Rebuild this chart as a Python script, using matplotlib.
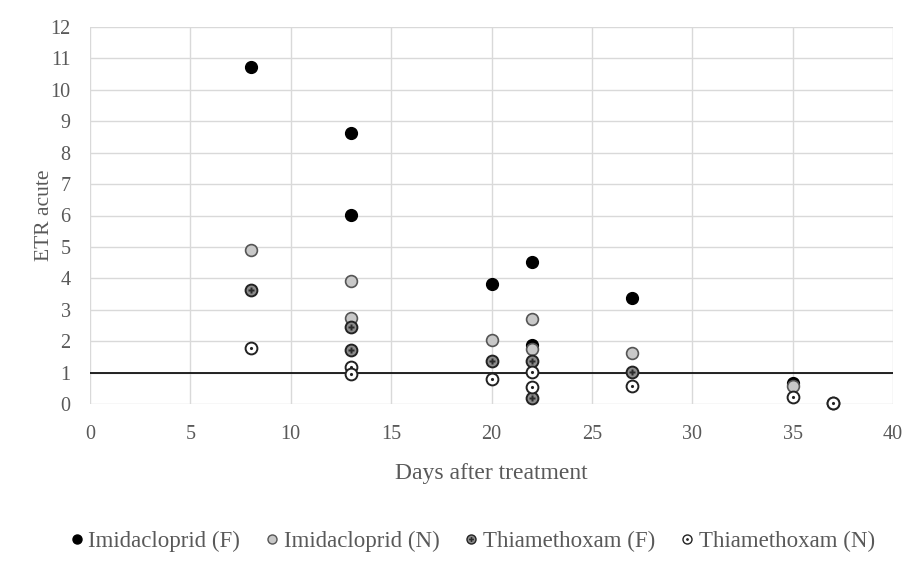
import matplotlib.pyplot as plt
from matplotlib.lines import Line2D

# ---- data ----
imid_f_x = [8, 13, 13, 20, 22, 22, 27, 35]
imid_f_y = [10.72, 8.62, 6.03, 3.82, 4.53, 1.88, 3.37, 0.67]

imid_n_x = [8, 13, 13, 20, 22, 22, 27, 35]
imid_n_y = [4.90, 3.92, 2.75, 2.04, 2.69, 1.74, 1.62, 0.57]

thia_f_x = [8, 13, 13, 20, 22, 22, 27, 37]
thia_f_y = [3.62, 2.45, 1.73, 1.37, 1.37, 0.20, 1.02, 0.03]

thia_n_x = [8, 13, 13, 20, 22, 22, 27, 35, 37]
thia_n_y = [1.78, 1.18, 0.96, 0.80, 1.02, 0.55, 0.57, 0.22, 0.03]

x_ticks = list(range(0, 45, 5))
y_ticks = list(range(0, 13))
threshold = 1

TXT = "#595959"
plt.rcParams['font.family'] = ['Liberation Serif', 'DejaVu Serif']

fig = plt.figure(figsize=(9.15, 5.63), dpi=100)
ax = fig.add_axes([90 / 915, 1 - 404 / 563, (893 - 90) / 915, (404 - 27) / 563])

ms = 8.5
kw = dict(ls="none", clip_on=False)
ax.plot(imid_f_x, imid_f_y, marker="o", ms=ms, mfc="black", mec="black", zorder=4, **kw)
ax.plot(imid_n_x, imid_n_y, marker="o", ms=ms, mfc="#c8c8c8", mec="#555555", mew=1.2, zorder=4, **kw)
ax.plot(thia_f_x, thia_f_y, marker="o", ms=ms, mfc="#8c8c8c", mec="#222222", mew=1.4, zorder=4, **kw)
ax.plot(thia_f_x, thia_f_y, marker="P", ms=4.5, mfc="#2a2a2a", mec="none", zorder=5, **kw)
ax.plot(thia_n_x, thia_n_y, marker="o", ms=ms, mfc="white", mec="#222222", mew=1.4, zorder=6, **kw)
ax.plot(thia_n_x, thia_n_y, marker=".", ms=2.5, color="#222222", zorder=7, **kw)

ax.axhline(threshold, color="black", lw=1.2, zorder=3)

ax.set_xlim(0, 40)
ax.set_ylim(0, 12)
ax.set_xticks(x_ticks)
ax.set_yticks(y_ticks)
ax.grid(True, color="#d9d9d9", lw=1)
ax.set_axisbelow(True)
for s in ax.spines.values():
    s.set_visible(False)
ax.tick_params(axis="x", length=0, labelsize=14.5, colors=TXT, pad=15)
ax.tick_params(axis="y", length=0, labelsize=14.5, colors=TXT, pad=14)

ax.set_xlabel("Days after treatment", fontsize=17, color=TXT, labelpad=14)
ax.set_ylabel("ETR acute", fontsize=15.5, color=TXT, labelpad=-3)

# ---- legend ----
lms = 6.5
h1 = Line2D([], [], ls="none", marker="o", ms=lms, mfc="black", mec="black")
h2 = Line2D([], [], ls="none", marker="o", ms=lms, mfc="#c8c8c8", mec="#555555", mew=1)
h3a = Line2D([], [], ls="none", marker="o", ms=lms, mfc="#8c8c8c", mec="#222222", mew=1)
h3b = Line2D([], [], ls="none", marker="P", ms=3.5, mfc="#2a2a2a", mec="none")
h4a = Line2D([], [], ls="none", marker="o", ms=lms, mfc="white", mec="#222222", mew=1)
h4b = Line2D([], [], ls="none", marker=".", ms=2, color="#222222")

fig.legend([h1, h2, (h3a, h3b), (h4a, h4b)],
           ["Imidacloprid (F)", "Imidacloprid (N)", "Thiamethoxam (F)", "Thiamethoxam (N)"],
           loc="center", bbox_to_anchor=(0.515, 1 - 541 / 563), ncol=4, frameon=False,
           fontsize=16.5, labelcolor=TXT, handletextpad=0.1, columnspacing=1.0,
           handlelength=0.8)

fig.savefig("out.png", dpi=100)
